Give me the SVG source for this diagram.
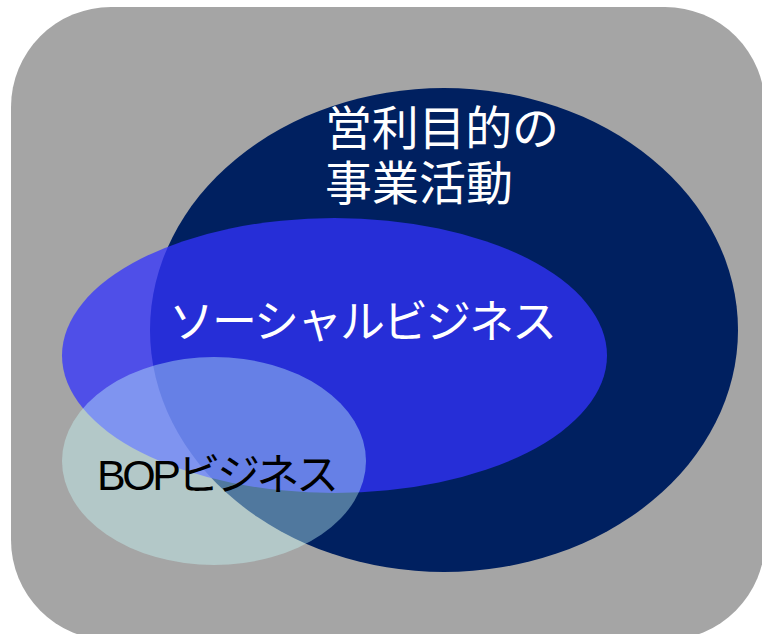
<svg xmlns="http://www.w3.org/2000/svg" width="762" height="634" viewBox="0 0 762 634">
<style>
.t{font-family:"Liberation Sans","Noto Sans CJK JP",sans-serif;}
.w{fill:#ffffff;}
.k{fill:#000000;}
</style>
<rect width="762" height="634" fill="#ffffff"/>
<g id="frame">
<rect x="11" y="7" width="754" height="633" rx="100" ry="100" fill="#a5a5a5"/>
</g>
<g id="connectors"></g>
<g id="node-profit">
<ellipse cx="444" cy="330" rx="294" ry="242" fill="#002060"/>
<text class="t w" font-size="47" x="325" y="145" textLength="234">営利目的の</text>
<text class="t w" font-size="47" x="325" y="200" textLength="188">事業活動</text>
</g>
<g id="node-social">
<ellipse cx="334.5" cy="355.5" rx="272.5" ry="137.5" fill="#3333ff" fill-opacity="0.75"/>
<text class="t w" font-size="45" x="169" y="338" textLength="388">ソーシャルビジネス</text>
</g>
<g id="node-bop">
<ellipse cx="214" cy="461" rx="152" ry="104" fill="#c8fcfc" fill-opacity="0.4"/>
<text class="t k" font-size="43" x="97" y="490" textLength="242">BOPビジネス</text>
</g>
</svg>
